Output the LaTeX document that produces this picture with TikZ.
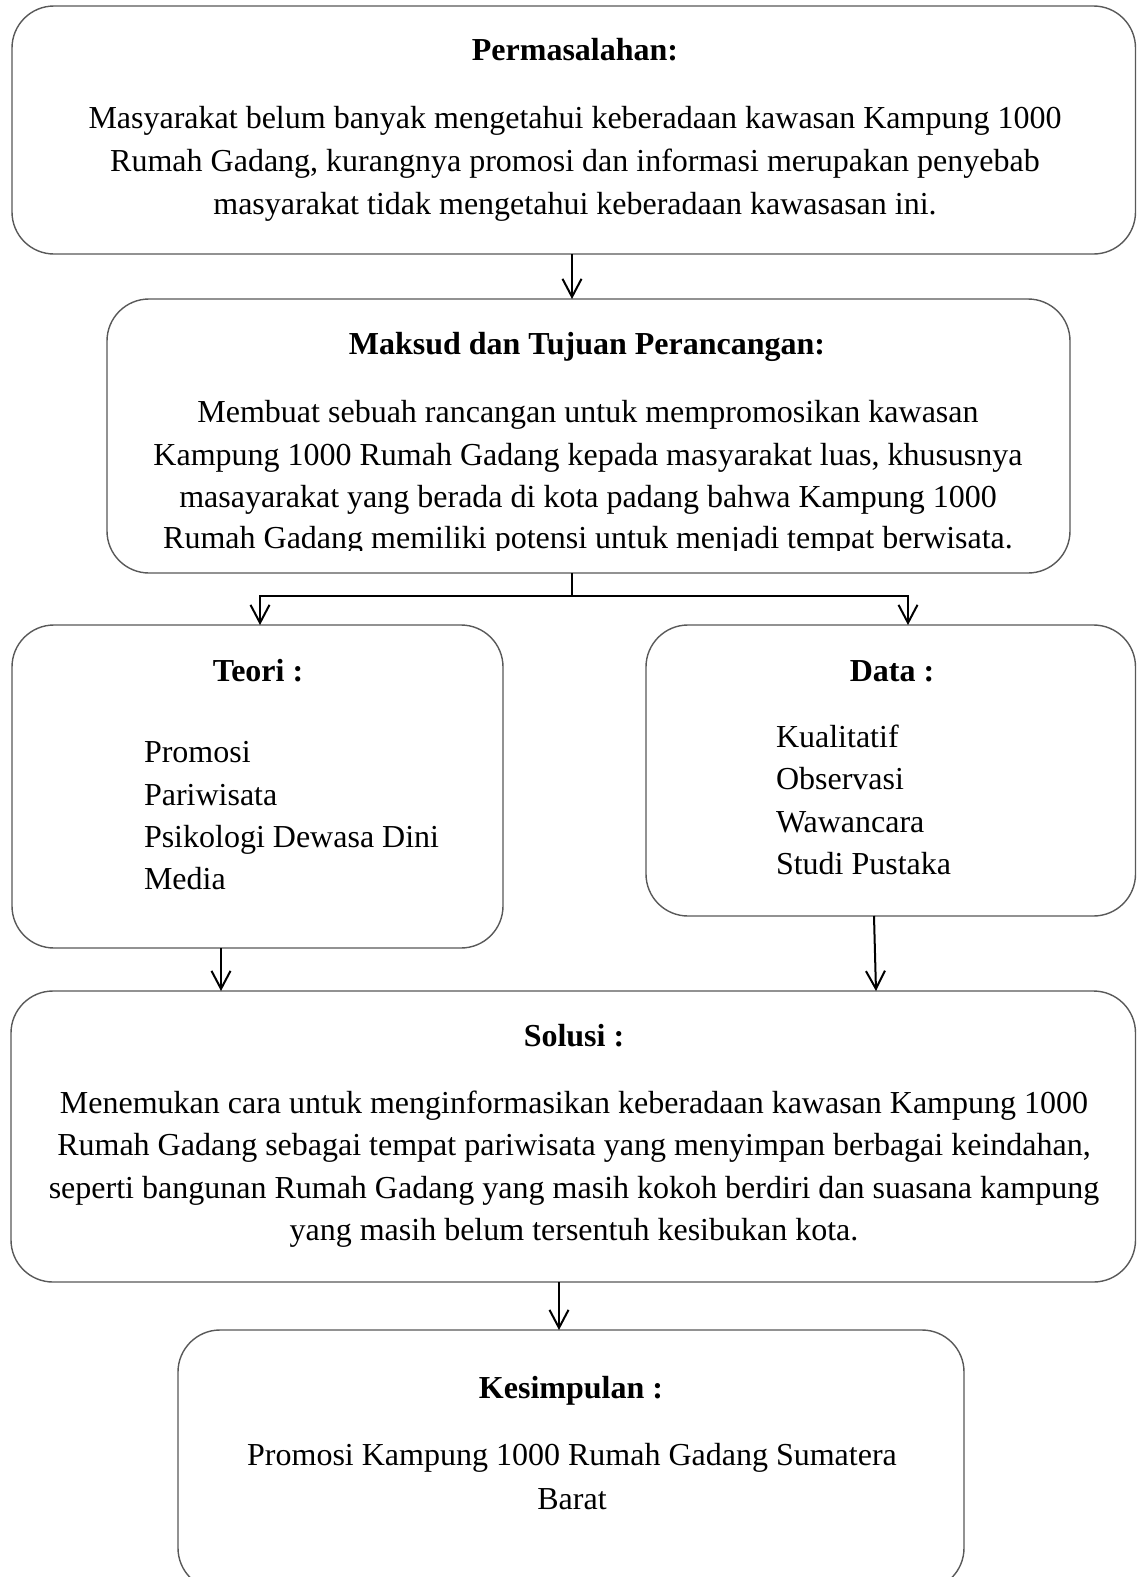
\documentclass[tikz,border=0pt]{standalone}
\usepackage{fontspec}
\setmainfont{Liberation Serif}
\usetikzlibrary{arrows.meta}
\begin{document}
\begin{tikzpicture}[x=1pt,y=-1pt,
 box/.style={draw=black!65, line width=1.4pt, rounded corners=42pt, inner sep=0pt, outer sep=0pt},
 arr/.style={draw=black, line width=2pt, -{Straight Barb[length=18pt,width=19pt,line width=2pt]}},
 conn/.style={draw=black, line width=2pt},
 tl/.style={font=\fontsize{32}{42.5}\selectfont, inner sep=0pt, outer sep=0pt, anchor=base},
 tt/.style={tl, font=\fontsize{32}{42.5}\selectfont\bfseries},
 tw/.style={tl, anchor=base west}]
\clip (0,0) rectangle (1137,1577);
\fill[white] (0,0) rectangle (1137,1577);
% boxes
\node[box, minimum width=1123.5pt, minimum height=248pt] (b1) at (573.75,130) {};
\node[box, minimum width=963pt, minimum height=274pt] (b2) at (588.5,436) {};
\node[box, minimum width=491pt, minimum height=323pt] (teori) at (257.5,786.5) {};
\node[box, minimum width=489.5pt, minimum height=291pt] (data) at (890.75,770.5) {};
\node[box, minimum width=1124.5pt, minimum height=291pt] (sol) at (573.25,1136.5) {};
\node[box, minimum width=786pt, minimum height=260pt] (kes) at (571,1460) {};
% box 1 text
\node[tt] (t1) at (575,60) {Permasalahan:};
\node[tl] (t1a) at (575,128) {Masyarakat belum banyak mengetahui keberadaan kawasan Kampung 1000};
\node[tl] (t1b) at (575,171) {Rumah Gadang, kurangnya promosi dan informasi merupakan penyebab};
\node[tl] (t1c) at (575,214) {masyarakat tidak mengetahui keberadaan kawasasan ini.};
% box 2 text
\node[tt] (t2) at (587,354) {Maksud dan Tujuan Perancangan:};
\node[tl] (t2a) at (588,422) {Membuat sebuah rancangan untuk mempromosikan kawasan};
\node[tl] (t2b) at (588,465) {Kampung 1000 Rumah Gadang kepada masyarakat luas, khususnya};
\node[tl] (t2c) at (588,507) {masayarakat yang berada di kota padang bahwa Kampung 1000};
\begin{scope}
\clip (0,0) rectangle (1137,550);
\node[tl] (t2d) at (588,548) {Rumah Gadang memiliki potensi untuk menjadi tempat berwisata.};
\end{scope}
% teori
\node[tt] (t3) at (258,681) {Teori :};
\node[tw] (t3a) at (144,762) {Promosi};
\node[tw] (t3b) at (144,805) {Pariwisata};
\node[tw] (t3c) at (144,847) {Psikologi Dewasa Dini};
\node[tw] (t3d) at (144,889) {Media};
% data
\node[tt] (t4) at (892,681) {Data :};
\node[tw] (t4a) at (776,747) {Kualitatif};
\node[tw] (t4b) at (776,789) {Observasi};
\node[tw] (t4c) at (776,832) {Wawancara};
\node[tw] (t4d) at (776,874) {Studi Pustaka};
% solusi
\node[tt] (t5) at (574,1046) {Solusi :};
\node[tl] (t5a) at (574,1113) {Menemukan cara untuk menginformasikan keberadaan kawasan Kampung 1000};
\node[tl] (t5b) at (574,1155) {Rumah Gadang sebagai tempat pariwisata yang menyimpan berbagai keindahan,};
\node[tl] (t5c) at (574,1198) {seperti bangunan Rumah Gadang yang masih kokoh berdiri dan suasana kampung};
\node[tl] (t5d) at (574,1240) {yang masih belum tersentuh kesibukan kota.};
% kesimpulan
\node[tt] (t6) at (571,1398) {Kesimpulan :};
\node[tl] (t6a) at (572,1465) {Promosi Kampung 1000 Rumah Gadang Sumatera};
\node[tl] (t6b) at (572,1509) {Barat};
% connectors
\draw[arr] ([xshift=-1.75pt]b1.south) -- ([xshift=-16.5pt]b2.north);
\coordinate (j) at ([xshift=-16.5pt,yshift=-23pt]b2.south);
\draw[conn] ([xshift=-16.5pt]b2.south) -- (j);
\draw[arr] (j) -| ([xshift=2.5pt]teori.north);
\draw[arr] (j) -| ([xshift=17.25pt]data.north);
\draw[arr] ([xshift=-36.5pt]teori.south) -- ([xshift=-352.25pt]sol.north);
\draw[arr] ([xshift=-16.75pt]data.south) -- ([xshift=302.75pt]sol.north);
\draw[arr] ([xshift=-14.25pt]sol.south) -- ([xshift=-12pt]kes.north);
\end{tikzpicture}
\end{document}
